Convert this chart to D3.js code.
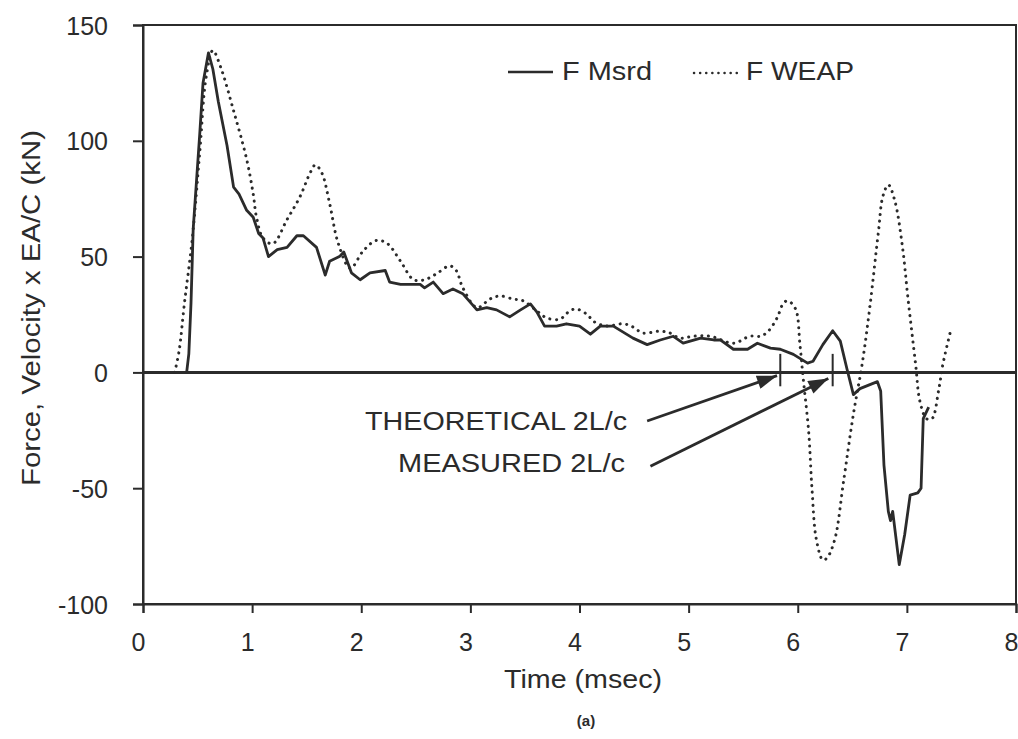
<!DOCTYPE html>
<html><head><meta charset="utf-8">
<script src="https://cdn.jsdelivr.net/npm/d3@7"></script>
<style>
html,body{margin:0;padding:0;background:#fff;}
svg{display:block;font-family:"Liberation Sans",Arial,sans-serif;}
</style></head>
<body>
<svg id="chart" width="1018" height="739"></svg>
<script>
// ---- data ----
const xTicks = [0,1,2,3,4,5,6,7,8];
const yTicks = [-100,-50,0,50,100,150];
const seriesNames = ["F Msrd","F WEAP"];

const tMsrd = [0.40,0.42,0.44,0.46,0.52,0.55,0.60,0.64,0.69,0.77,0.83,0.88,0.95,1.01,1.06,1.10,1.15,1.23,1.32,1.41,1.47,1.59,1.67,1.71,1.80,1.84,1.91,1.99,2.08,2.22,2.26,2.36,2.54,2.58,2.66,2.75,2.84,2.93,3.06,3.15,3.24,3.36,3.46,3.55,3.61,3.68,3.79,3.88,4.00,4.10,4.19,4.31,4.49,4.62,4.74,4.86,4.95,5.11,5.23,5.29,5.41,5.54,5.63,5.75,5.84,5.96,6.09,6.14,6.23,6.32,6.39,6.45,6.51,6.57,6.73,6.76,6.79,6.83,6.85,6.87,6.93,6.98,7.03,7.10,7.13,7.15,7.20];
const fMsrd = [0,8,30,62,103,125,138,131,117,98,80,77,70,67,60,58,50,53,54,59,59,54,42,48,50,52,43,40,43,44,39,38,38,36.5,39,34,36,34,27,28,27,24,27,29.6,26,20,20,21,20,16.5,20,20,14.8,12,14,15.6,12.6,14.8,14,14,10,10,12.6,10.5,10,7.8,4,4.8,12,18,13.5,1.7,-9.6,-7,-4,-8,-40,-60,-64,-60,-83,-70,-53,-52,-50,-20,-15];

const tWeap = [0.29,0.33,0.38,0.45,0.52,0.58,0.64,0.71,0.83,0.95,1.01,1.04,1.10,1.19,1.32,1.44,1.53,1.58,1.64,1.71,1.79,1.90,2.02,2.14,2.24,2.36,2.48,2.58,2.69,2.81,2.87,2.93,3.06,3.18,3.27,3.39,3.48,3.61,3.70,3.82,3.91,3.97,4.07,4.13,4.25,4.40,4.49,4.58,4.74,4.83,4.92,5.04,5.20,5.41,5.56,5.66,5.73,5.81,5.87,5.91,5.98,6.02,6.05,6.10,6.13,6.17,6.23,6.27,6.34,6.42,6.51,6.59,6.66,6.74,6.78,6.83,6.89,6.96,7.01,7.08,7.12,7.18,7.23,7.29,7.33,7.40];
const fWeap = [0,9,30,57,95,128,139,132,113,92,77,67,58,55.6,66,76,86,89.6,86,73,55.6,45,52.6,57,55.6,48,40,40,42.6,46,44,36.6,28,31.7,33,31.7,31,26.5,23.5,23,26.5,27.4,25,22,20,21,19.6,17,17.8,17,14.8,15.6,15.6,12.6,15.6,15.6,17.8,23.5,30,30.9,27.4,12,-2.6,-25.6,-50,-72,-81,-80,-72,-47,-18,3.5,28,61,76,81,74,54,32,3.5,-12.6,-20,-20,-8,3.5,17.8];

// annotations (data coords)
const annoLabels = ["THEORETICAL 2L/c","MEASURED 2L/c"];
const annoMarkT = [5.84, 6.32];
const annoFrom = [[4.62,-21],[4.65,-40.5]];
const annoTo = [[5.81,-1.4],[6.28,-2.6]];

// ---- layout ----
const svg = d3.select("#chart");
const ink = "#2b2b2b";
const x = d3.scaleLinear().domain([0,8]).range([143,1016]);
const y = d3.scaleLinear().domain([-100,150]).range([604,25]);
const fmt = d => String(d);

// frame
svg.append("rect").attr("x",x(0)).attr("y",y(150)).attr("width",x(8)-x(0)).attr("height",y(-100)-y(150))
  .attr("fill","none").attr("stroke",ink).attr("stroke-width",2);

// y axis
const gy = svg.append("g").attr("transform",`translate(${x(0)},0)`)
  .call(d3.axisLeft(y).tickValues(yTicks).tickSize(10).tickPadding(25).tickFormat(fmt));
gy.select(".domain").attr("stroke",ink).attr("stroke-width",2);
gy.selectAll(".tick line").attr("stroke",ink).attr("stroke-width",2);
gy.selectAll(".tick text").attr("fill",ink).attr("font-size",25).attr("font-family","Liberation Sans, Arial, sans-serif").attr("dy","0.36em");

// x axis
const gx = svg.append("g").attr("transform",`translate(0,${y(-100)})`)
  .call(d3.axisBottom(x).tickValues(xTicks).tickSize(9).tickPadding(20).tickFormat(fmt));
gx.select(".domain").attr("stroke",ink).attr("stroke-width",2);
gx.selectAll(".tick line").attr("stroke",ink).attr("stroke-width",2);
gx.selectAll(".tick text").attr("fill",ink).attr("font-size",25).attr("font-family","Liberation Sans, Arial, sans-serif").attr("dx","-5");

// zero line
svg.append("line").attr("x1",x(0)).attr("x2",x(8)).attr("y1",y(0)).attr("y2",y(0))
  .attr("stroke",ink).attr("stroke-width",3);

// axis titles
svg.append("text").attr("x",583).attr("y",688).attr("text-anchor","middle")
  .attr("font-size",25).attr("fill",ink).attr("textLength",158).attr("lengthAdjust","spacingAndGlyphs")
  .text("Time (msec)");
svg.append("text").attr("transform","translate(40,308) rotate(-90)").attr("text-anchor","middle")
  .attr("font-size",26).attr("fill",ink).attr("textLength",356).attr("lengthAdjust","spacingAndGlyphs")
  .text("Force, Velocity x EA/C (kN)");
svg.append("text").attr("x",586).attr("y",726).attr("text-anchor","middle")
  .attr("font-size",15).attr("font-weight","bold").attr("fill",ink).text("(a)");

// series
const msrd = tMsrd.map((t,i)=>[t,fMsrd[i]]);
const weap = tWeap.map((t,i)=>[t,fWeap[i]]);
svg.append("path").datum(weap)
  .attr("d",d3.line().x(d=>x(d[0])).y(d=>y(d[1])).curve(d3.curveCatmullRom.alpha(0.5)))
  .attr("fill","none").attr("stroke",ink).attr("stroke-width",3)
  .attr("stroke-dasharray","0.1,6.5").attr("stroke-linecap","round");
svg.append("path").datum(msrd)
  .attr("d",d3.line().x(d=>x(d[0])).y(d=>y(d[1])))
  .attr("fill","none").attr("stroke",ink).attr("stroke-width",2.8).attr("stroke-linejoin","round");

// legend
const leg = svg.append("g");
leg.append("line").attr("x1",508).attr("x2",553).attr("y1",72).attr("y2",72).attr("stroke",ink).attr("stroke-width",2.5);
leg.append("text").attr("x",562).attr("y",80).attr("font-size",25).attr("fill",ink)
  .attr("textLength",90).attr("lengthAdjust","spacingAndGlyphs").text(seriesNames[0]);
leg.append("line").attr("x1",694).attr("x2",737).attr("y1",73).attr("y2",73).attr("stroke",ink).attr("stroke-width",2.5)
  .attr("stroke-dasharray","0.1,6").attr("stroke-linecap","round");
leg.append("text").attr("x",746).attr("y",80).attr("font-size",25).attr("fill",ink)
  .attr("textLength",108).attr("lengthAdjust","spacingAndGlyphs").text(seriesNames[1]);

// annotations
const defs = svg.append("defs");
defs.append("marker").attr("id","arr").attr("viewBox","0 0 20 14").attr("refX",20).attr("refY",7)
  .attr("markerWidth",22).attr("markerHeight",14).attr("markerUnits","userSpaceOnUse").attr("orient","auto")
  .append("path").attr("d","M0,0 L20,7 L0,14 Z").attr("fill",ink);
annoLabels.forEach((lab,i)=>{
  svg.append("line").attr("x1",x(annoFrom[i][0])).attr("y1",y(annoFrom[i][1]))
    .attr("x2",x(annoTo[i][0])).attr("y2",y(annoTo[i][1]))
    .attr("stroke",ink).attr("stroke-width",2.8).attr("marker-end","url(#arr)");
  svg.append("line").attr("x1",x(annoMarkT[i])).attr("x2",x(annoMarkT[i])).attr("y1",y(8)).attr("y2",y(-6))
    .attr("stroke",ink).attr("stroke-width",2);
});
svg.append("text").attr("x",627).attr("y",430).attr("text-anchor","end").attr("font-size",25).attr("fill",ink)
  .attr("textLength",262).attr("lengthAdjust","spacingAndGlyphs").text(annoLabels[0]);
svg.append("text").attr("x",625).attr("y",472).attr("text-anchor","end").attr("font-size",25).attr("fill",ink)
  .attr("textLength",227).attr("lengthAdjust","spacingAndGlyphs").text(annoLabels[1]);
</script>
</body></html>
